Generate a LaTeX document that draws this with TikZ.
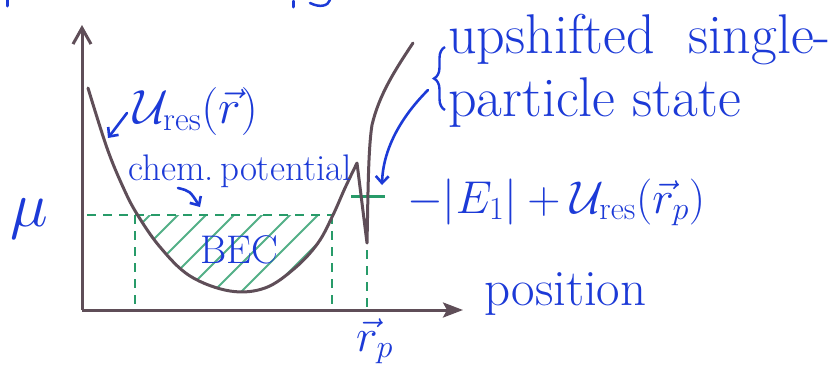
\documentclass[tikz,border=0pt]{standalone}
\usepackage{fix-cm}
\usetikzlibrary{arrows.meta,decorations.pathreplacing}
\definecolor{ink}{RGB}{28,58,215}
\definecolor{pen}{RGB}{95,78,88}
\definecolor{grn}{RGB}{40,155,105}
\tikzset{
 axisline/.style={pen, line width=3pt},
 potcurve/.style={pen, line width=3pt, line join=round, line cap=round},
 gdash/.style={grn, line width=2.6pt, dash pattern=on 9pt off 7pt},
 hatchline/.style={grn!80, line width=2pt},
 inkarrow/.style={ink, line width=2.6pt, line cap=round, -{Straight Barb[length=7pt,width=13pt]}},
 lbl/.style={ink, inner sep=0pt},
}
\begin{document}
\begin{tikzpicture}[x=1pt,y=-1pt]
\useasboundingbox (0,0) rectangle (840,373);
% axes
\coordinate (O) at (82,310);
\coordinate (Ytip) at (82,25);
\coordinate (Xtip) at (463,310);
\draw[axisline, -{Straight Barb[length=16pt,width=18pt]}] (O) -- (Ytip);
\draw[axisline, -{Stealth[length=20pt,width=15pt,inset=4pt]}] (O) -- (Xtip);
% hatching of BEC region
\begin{scope}
\clip plot[smooth,tension=0.6] coordinates {(134,215)(137,214)(160,247)(190,276)(230,291)(265,288)(295,268)(318,243)(333,215)} -- cycle;
\foreach \k in {122,150,...,360} \draw[hatchline] (\k-90,305) -- (\k+10,205);
\end{scope}
% dashed lines
\coordinate (muL) at (87,215);
\coordinate (muR) at (333,215);
\coordinate (vA) at (135,215);
\coordinate (vAb) at (135,310);
\coordinate (vB) at (332,215);
\coordinate (vBb) at (332,310);
\coordinate (vC) at (367,250);
\coordinate (vCb) at (367,310);
\draw[gdash] (muL) -- (muR);
\draw[gdash] (vA) -- (vAb);
\draw[gdash] (vB) -- (vBb);
\draw[gdash] (vC) -- (vCb);
% green bar
\coordinate (bL) at (351,196);
\coordinate (bR) at (385,196);
\draw[grn, line width=3pt] (bL) -- (bR);
% potential curve
\draw[potcurve] plot[smooth,tension=0.6] coordinates {(88,88)(107,148)(123,187)(137,214)(160,247)(190,276)(230,291)(265,288)(295,268)(318,243)(333,215)(345,188)(357,163)} -- (367,243) .. controls (368,200) and (368,150) .. (372,125) .. controls (379,95) and (395,70) .. (413,43);
% labels
\node[lbl, anchor=base west, font=\fontsize{56}{64}\selectfont] (up) at (448,53) {upshifted\ \ single-};
\node[lbl, anchor=base west, font=\fontsize{56}{64}\selectfont] (ps) at (448,116) {particle state};
\draw[ink, line width=2.4pt, decorate, decoration={brace, amplitude=11pt}] (445,110) -- (445,47);
\coordinate (aS) at (428,90);
\coordinate (aE) at (382,185);
\draw[inkarrow] (aS) .. controls (400,118) and (383,150) .. (aE);
\node[lbl, anchor=base west, font=\fontsize{48}{54}\selectfont] (ures) at (133,123) {$\mathcal{U}_{\mathrm{res}}(\vec r)$};
\coordinate (uS) at (127,113);
\coordinate (uE) at (108,138);
\draw[inkarrow] (uS) -- (uE);
\node[lbl, anchor=base west, font=\fontsize{37}{44}\selectfont] (chem) at (128,180) {chem.\,potential};
\coordinate (cS) at (178,188);
\coordinate (cE) at (200,207);
\draw[inkarrow] (cS) .. controls (190,191) .. (cE);
\node[lbl, anchor=base west, font=\fontsize{40}{46}\selectfont] (bec) at (200,263) {BEC};
\node[lbl, anchor=base west, font=\fontsize{64}{70}\selectfont] (mu) at (10,226) {$\mu$};
\node[lbl, anchor=base west, font=\fontsize{46}{52}\selectfont] (eq) at (407,213) {$-|E_1|+\mathcal{U}_{\mathrm{res}}(\vec r_{p})$};
\node[lbl, anchor=base west, font=\fontsize{51}{58}\selectfont] (pos) at (484,305) {position};
\node[lbl, anchor=base west, font=\fontsize{46}{52}\selectfont] (rp) at (356,351) {$\vec r_{p}$};
% fragments at top edge
\draw[ink, line width=3pt, line cap=round] (7,0) -- (7,6);
\draw[ink, line width=3pt, line cap=round] (293,1) -- (293,7);
\draw[ink, line width=2.5pt, line cap=round] (310,3) .. controls (320,8) and (328,6) .. (330,0);
\end{tikzpicture}
\end{document}
